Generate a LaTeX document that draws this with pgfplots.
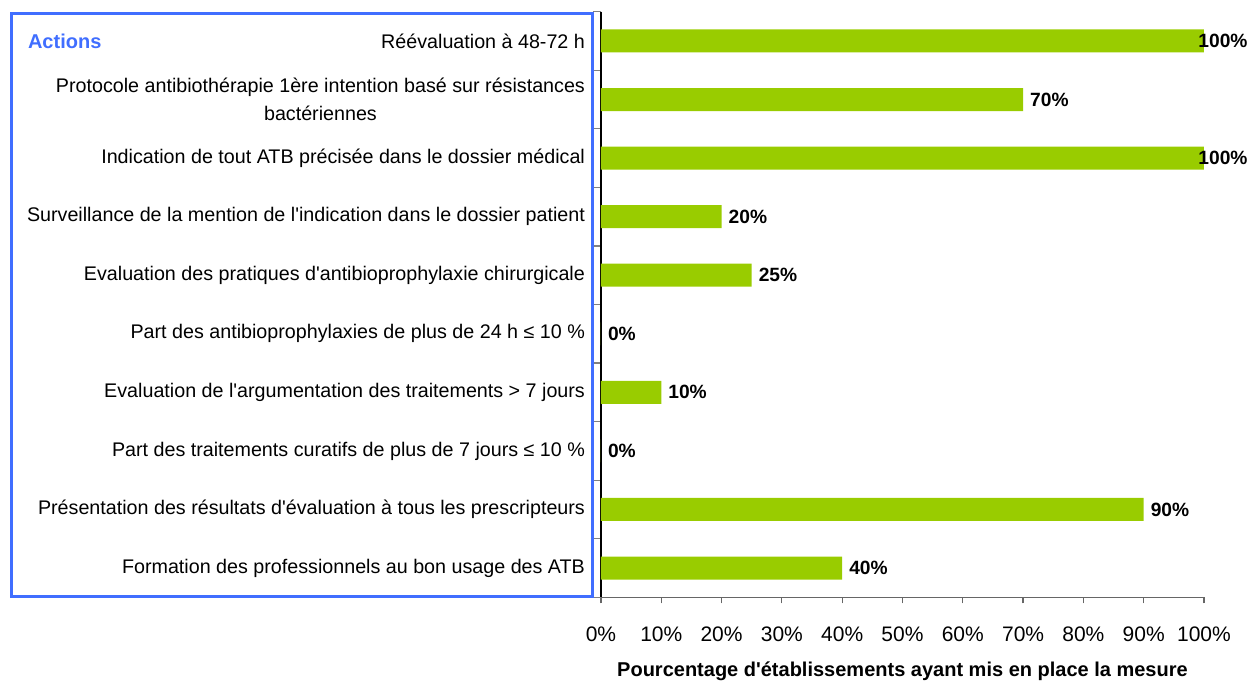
\documentclass[border=0pt]{standalone}
\usepackage{pgfplots}
\pgfplotsset{compat=1.18}
\usepackage{fontspec}
\setmainfont{Liberation Sans}
\definecolor{bargreen}{RGB}{153,204,0}
\definecolor{boxblue}{RGB}{64,110,255}
\newcommand{\q}{\textquotesingle}
\begin{document}
\fontsize{10pt}{14pt}\selectfont
\begin{tikzpicture}
\begin{axis}[
  scale only axis,
  width=301.5pt, height=292.8pt,
  xbar, bar width=11.5pt, bar shift=0pt,
  xmin=0, xmax=100,
  ymin=-0.5, ymax=9.5,
  y dir=reverse,
  axis x line*=bottom, axis y line*=left,
  x axis line style={gray!80!black, line width=0.8pt},
  y axis line style={black, line width=0.6pt},
  xtick={0,10,...,100},
  xticklabel={\pgfmathprintnumber{\tick}\%},
  x tick style={gray!80!black, line width=0.6pt},
  tick align=outside,
  major tick length=3pt,
  ytick={0,...,9},
  y tick style={draw=none},
  minor ytick={-0.5,0.5,...,9.5},
  minor y tick style={gray, line width=0.6pt, draw=gray},
  minor tick length=4pt,
  yticklabels={
    {R\'e\'evaluation \`a 48-72 h},
    {Protocole antibioth\'erapie 1\`ere intention bas\'e sur r\'esistances\\bact\'eriennes},
    {Indication de tout ATB pr\'ecis\'ee dans le dossier m\'edical},
    {Surveillance de la mention de l\q{}indication dans le dossier patient},
    {Evaluation des pratiques d\q{}antibioprophylaxie chirurgicale},
    {Part des antibioprophylaxies de plus de 24 h ≤ 10 \%},
    {Evaluation de l\q{}argumentation des traitements > 7 jours},
    {Part des traitements curatifs de plus de 7 jours ≤ 10 \%},
    {Pr\'esentation des r\'esultats d\q{}\'evaluation \`a tous les prescripteurs},
    {Formation des professionnels au bon usage des ATB}},
  yticklabel style={align=center, font=\fontsize{9.85pt}{14pt}\selectfont, xshift=-1.5pt},
  xticklabel style={font=\fontsize{10.5pt}{12pt}\selectfont, yshift=-8pt},
  /pgf/number format/assume math mode=true,
  xlabel={Pourcentage d\q{}\'etablissements ayant mis en place la mesure},
  xlabel style={font=\fontsize{10pt}{12pt}\selectfont\bfseries, yshift=-3.5pt},
  nodes near coords={\pgfmathprintnumber{\pgfplotspointmeta}\%},
  point meta=x,
  every node near coord/.append style={font=\fontsize{9.6pt}{12pt}\selectfont\bfseries, anchor=west, xshift=0pt},
  clip=false,
]
\addplot[fill=bargreen, draw=none] coordinates {
  (70,1) (20,3) (25,4) (0,5) (10,6) (0,7) (90,8) (40,9)};
\addplot[fill=bargreen, draw=none, every node near coord/.append style={xshift=-6.3pt}] coordinates {
  (100,0) (100,2)};
\end{axis}
\draw[boxblue, line width=1.5pt] ([xshift=-294.5pt,yshift=0.5pt]current axis.south west) rectangle ([xshift=-4pt,yshift=-0.8pt]current axis.north west);
\node[anchor=west, text=boxblue, font=\fontsize{10pt}{12pt}\selectfont\bfseries] at ([xshift=-290pt,yshift=-15pt]current axis.north west) {Actions};
\pgfresetboundingbox
\path ([xshift=-300.5pt,yshift=-42.35pt]current axis.south west) rectangle ++(624.5pt,341pt);
\end{tikzpicture}
\end{document}
